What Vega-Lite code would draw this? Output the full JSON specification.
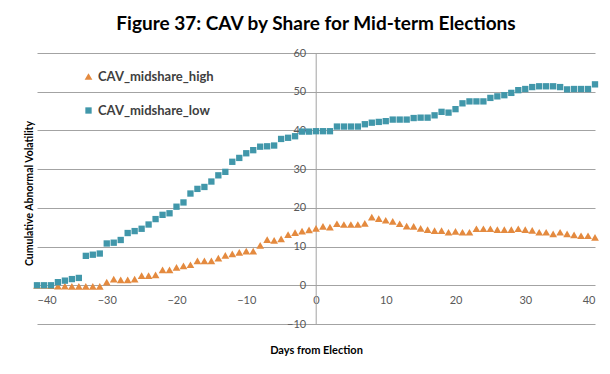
{
  "$schema": "https://vega.github.io/schema/vega-lite/v6.json",
  "width": 558,
  "height": 271,
  "autosize": "none",
  "padding": {"left": 37, "top": 53, "right": 15, "bottom": 50},
  "background": "white",
  "title": {
    "text": "Figure 37: CAV by Share for Mid-term Elections",
    "font": "Lato",
    "fontSize": 19,
    "fontWeight": "bold",
    "color": "#000000",
    "anchor": "middle",
    "offset": 13
  },
  "config": {
    "view": {"stroke": null},
    "font": "Lato"
  },
  "data": {
    "values": [
      {"day": -40, "series": "CAV_midshare_high", "value": 0},
      {"day": -39, "series": "CAV_midshare_high", "value": 0},
      {"day": -38, "series": "CAV_midshare_high", "value": -0.1},
      {"day": -37, "series": "CAV_midshare_high", "value": -0.2},
      {"day": -36, "series": "CAV_midshare_high", "value": -0.2},
      {"day": -35, "series": "CAV_midshare_high", "value": -0.3},
      {"day": -34, "series": "CAV_midshare_high", "value": -0.3},
      {"day": -33, "series": "CAV_midshare_high", "value": -0.3},
      {"day": -32, "series": "CAV_midshare_high", "value": -0.3},
      {"day": -31, "series": "CAV_midshare_high", "value": -0.3},
      {"day": -30, "series": "CAV_midshare_high", "value": 0.8},
      {"day": -29, "series": "CAV_midshare_high", "value": 1.6},
      {"day": -28, "series": "CAV_midshare_high", "value": 1.4},
      {"day": -27, "series": "CAV_midshare_high", "value": 1.4},
      {"day": -26, "series": "CAV_midshare_high", "value": 1.6},
      {"day": -25, "series": "CAV_midshare_high", "value": 2.5},
      {"day": -24, "series": "CAV_midshare_high", "value": 2.5},
      {"day": -23, "series": "CAV_midshare_high", "value": 2.7},
      {"day": -22, "series": "CAV_midshare_high", "value": 4.0},
      {"day": -21, "series": "CAV_midshare_high", "value": 4.0},
      {"day": -20, "series": "CAV_midshare_high", "value": 4.6},
      {"day": -19, "series": "CAV_midshare_high", "value": 5.0},
      {"day": -18, "series": "CAV_midshare_high", "value": 5.3},
      {"day": -17, "series": "CAV_midshare_high", "value": 6.3},
      {"day": -16, "series": "CAV_midshare_high", "value": 6.3},
      {"day": -15, "series": "CAV_midshare_high", "value": 6.3},
      {"day": -14, "series": "CAV_midshare_high", "value": 7.0},
      {"day": -13, "series": "CAV_midshare_high", "value": 7.7},
      {"day": -12, "series": "CAV_midshare_high", "value": 8.1},
      {"day": -11, "series": "CAV_midshare_high", "value": 8.5},
      {"day": -10, "series": "CAV_midshare_high", "value": 8.8},
      {"day": -9, "series": "CAV_midshare_high", "value": 8.8},
      {"day": -8, "series": "CAV_midshare_high", "value": 10.3},
      {"day": -7, "series": "CAV_midshare_high", "value": 11.8},
      {"day": -6, "series": "CAV_midshare_high", "value": 11.6},
      {"day": -5, "series": "CAV_midshare_high", "value": 12.0},
      {"day": -4, "series": "CAV_midshare_high", "value": 13.1},
      {"day": -3, "series": "CAV_midshare_high", "value": 13.6},
      {"day": -2, "series": "CAV_midshare_high", "value": 14.0},
      {"day": -1, "series": "CAV_midshare_high", "value": 14.3},
      {"day": 0, "series": "CAV_midshare_high", "value": 14.7},
      {"day": 1, "series": "CAV_midshare_high", "value": 15.2},
      {"day": 2, "series": "CAV_midshare_high", "value": 15.0},
      {"day": 3, "series": "CAV_midshare_high", "value": 15.9},
      {"day": 4, "series": "CAV_midshare_high", "value": 15.7},
      {"day": 5, "series": "CAV_midshare_high", "value": 15.7},
      {"day": 6, "series": "CAV_midshare_high", "value": 15.7},
      {"day": 7, "series": "CAV_midshare_high", "value": 16.0},
      {"day": 8, "series": "CAV_midshare_high", "value": 17.6},
      {"day": 9, "series": "CAV_midshare_high", "value": 17.2},
      {"day": 10, "series": "CAV_midshare_high", "value": 16.8},
      {"day": 11, "series": "CAV_midshare_high", "value": 16.5},
      {"day": 12, "series": "CAV_midshare_high", "value": 15.9},
      {"day": 13, "series": "CAV_midshare_high", "value": 15.3},
      {"day": 14, "series": "CAV_midshare_high", "value": 15.2},
      {"day": 15, "series": "CAV_midshare_high", "value": 14.7},
      {"day": 16, "series": "CAV_midshare_high", "value": 14.4},
      {"day": 17, "series": "CAV_midshare_high", "value": 14.1},
      {"day": 18, "series": "CAV_midshare_high", "value": 14.1},
      {"day": 19, "series": "CAV_midshare_high", "value": 13.7},
      {"day": 20, "series": "CAV_midshare_high", "value": 13.9},
      {"day": 21, "series": "CAV_midshare_high", "value": 13.7},
      {"day": 22, "series": "CAV_midshare_high", "value": 13.7},
      {"day": 23, "series": "CAV_midshare_high", "value": 14.6},
      {"day": 24, "series": "CAV_midshare_high", "value": 14.6},
      {"day": 25, "series": "CAV_midshare_high", "value": 14.6},
      {"day": 26, "series": "CAV_midshare_high", "value": 14.4},
      {"day": 27, "series": "CAV_midshare_high", "value": 14.4},
      {"day": 28, "series": "CAV_midshare_high", "value": 14.4},
      {"day": 29, "series": "CAV_midshare_high", "value": 14.6},
      {"day": 30, "series": "CAV_midshare_high", "value": 14.4},
      {"day": 31, "series": "CAV_midshare_high", "value": 14.2},
      {"day": 32, "series": "CAV_midshare_high", "value": 13.7},
      {"day": 33, "series": "CAV_midshare_high", "value": 13.7},
      {"day": 34, "series": "CAV_midshare_high", "value": 13.3},
      {"day": 35, "series": "CAV_midshare_high", "value": 13.7},
      {"day": 36, "series": "CAV_midshare_high", "value": 13.3},
      {"day": 37, "series": "CAV_midshare_high", "value": 13.0},
      {"day": 38, "series": "CAV_midshare_high", "value": 12.8},
      {"day": 39, "series": "CAV_midshare_high", "value": 12.8},
      {"day": 40, "series": "CAV_midshare_high", "value": 12.4},
      {"day": -40, "series": "CAV_midshare_low", "value": 0},
      {"day": -39, "series": "CAV_midshare_low", "value": 0},
      {"day": -38, "series": "CAV_midshare_low", "value": 0},
      {"day": -37, "series": "CAV_midshare_low", "value": 0.8},
      {"day": -36, "series": "CAV_midshare_low", "value": 1.2},
      {"day": -35, "series": "CAV_midshare_low", "value": 1.6},
      {"day": -34, "series": "CAV_midshare_low", "value": 1.9},
      {"day": -33, "series": "CAV_midshare_low", "value": 7.6},
      {"day": -32, "series": "CAV_midshare_low", "value": 7.9},
      {"day": -31, "series": "CAV_midshare_low", "value": 8.2},
      {"day": -30, "series": "CAV_midshare_low", "value": 10.8},
      {"day": -29, "series": "CAV_midshare_low", "value": 11.0},
      {"day": -28, "series": "CAV_midshare_low", "value": 11.7},
      {"day": -27, "series": "CAV_midshare_low", "value": 13.5},
      {"day": -26, "series": "CAV_midshare_low", "value": 14.0},
      {"day": -25, "series": "CAV_midshare_low", "value": 14.6},
      {"day": -24, "series": "CAV_midshare_low", "value": 15.7},
      {"day": -23, "series": "CAV_midshare_low", "value": 17.1},
      {"day": -22, "series": "CAV_midshare_low", "value": 18.2},
      {"day": -21, "series": "CAV_midshare_low", "value": 18.6},
      {"day": -20, "series": "CAV_midshare_low", "value": 20.3},
      {"day": -19, "series": "CAV_midshare_low", "value": 21.4},
      {"day": -18, "series": "CAV_midshare_low", "value": 23.7},
      {"day": -17, "series": "CAV_midshare_low", "value": 24.9},
      {"day": -16, "series": "CAV_midshare_low", "value": 25.4},
      {"day": -15, "series": "CAV_midshare_low", "value": 26.8},
      {"day": -14, "series": "CAV_midshare_low", "value": 28.4},
      {"day": -13, "series": "CAV_midshare_low", "value": 29.3},
      {"day": -12, "series": "CAV_midshare_low", "value": 31.9},
      {"day": -11, "series": "CAV_midshare_low", "value": 32.9},
      {"day": -10, "series": "CAV_midshare_low", "value": 34.1},
      {"day": -9, "series": "CAV_midshare_low", "value": 34.9},
      {"day": -8, "series": "CAV_midshare_low", "value": 35.8},
      {"day": -7, "series": "CAV_midshare_low", "value": 35.9},
      {"day": -6, "series": "CAV_midshare_low", "value": 36.1},
      {"day": -5, "series": "CAV_midshare_low", "value": 37.8},
      {"day": -4, "series": "CAV_midshare_low", "value": 38.1},
      {"day": -3, "series": "CAV_midshare_low", "value": 38.5},
      {"day": -2, "series": "CAV_midshare_low", "value": 39.7},
      {"day": -1, "series": "CAV_midshare_low", "value": 39.7},
      {"day": 0, "series": "CAV_midshare_low", "value": 39.8},
      {"day": 1, "series": "CAV_midshare_low", "value": 39.8},
      {"day": 2, "series": "CAV_midshare_low", "value": 39.8},
      {"day": 3, "series": "CAV_midshare_low", "value": 41.0},
      {"day": 4, "series": "CAV_midshare_low", "value": 41.0},
      {"day": 5, "series": "CAV_midshare_low", "value": 41.0},
      {"day": 6, "series": "CAV_midshare_low", "value": 41.0},
      {"day": 7, "series": "CAV_midshare_low", "value": 41.6},
      {"day": 8, "series": "CAV_midshare_low", "value": 42.0},
      {"day": 9, "series": "CAV_midshare_low", "value": 42.2},
      {"day": 10, "series": "CAV_midshare_low", "value": 42.4},
      {"day": 11, "series": "CAV_midshare_low", "value": 42.8},
      {"day": 12, "series": "CAV_midshare_low", "value": 42.8},
      {"day": 13, "series": "CAV_midshare_low", "value": 42.8},
      {"day": 14, "series": "CAV_midshare_low", "value": 43.2},
      {"day": 15, "series": "CAV_midshare_low", "value": 43.3},
      {"day": 16, "series": "CAV_midshare_low", "value": 43.3},
      {"day": 17, "series": "CAV_midshare_low", "value": 43.9},
      {"day": 18, "series": "CAV_midshare_low", "value": 44.8},
      {"day": 19, "series": "CAV_midshare_low", "value": 44.6},
      {"day": 20, "series": "CAV_midshare_low", "value": 45.5},
      {"day": 21, "series": "CAV_midshare_low", "value": 47.0},
      {"day": 22, "series": "CAV_midshare_low", "value": 47.5},
      {"day": 23, "series": "CAV_midshare_low", "value": 47.5},
      {"day": 24, "series": "CAV_midshare_low", "value": 47.5},
      {"day": 25, "series": "CAV_midshare_low", "value": 48.4},
      {"day": 26, "series": "CAV_midshare_low", "value": 48.8},
      {"day": 27, "series": "CAV_midshare_low", "value": 49.1},
      {"day": 28, "series": "CAV_midshare_low", "value": 49.7},
      {"day": 29, "series": "CAV_midshare_low", "value": 50.4},
      {"day": 30, "series": "CAV_midshare_low", "value": 50.7},
      {"day": 31, "series": "CAV_midshare_low", "value": 51.2},
      {"day": 32, "series": "CAV_midshare_low", "value": 51.4},
      {"day": 33, "series": "CAV_midshare_low", "value": 51.4},
      {"day": 34, "series": "CAV_midshare_low", "value": 51.4},
      {"day": 35, "series": "CAV_midshare_low", "value": 51.2},
      {"day": 36, "series": "CAV_midshare_low", "value": 50.6},
      {"day": 37, "series": "CAV_midshare_low", "value": 50.7},
      {"day": 38, "series": "CAV_midshare_low", "value": 50.7},
      {"day": 39, "series": "CAV_midshare_low", "value": 50.7},
      {"day": 40, "series": "CAV_midshare_low", "value": 51.9}
    ]
  },
  "mark": {"type": "point", "filled": true, "opacity": 1},
  "encoding": {
    "x": {
      "field": "day",
      "type": "quantitative",
      "scale": {"domain": [-40, 40], "nice": false},
      "axis": {
        "values": [-40, -30, -20, -10, 0, 10, 20, 30, 40],
        "offset": -38.7,
        "grid": false,
        "domain": false,
        "ticks": false,
        "labelPadding": 9,
        "labelFont": "Lato",
        "labelFontSize": 11,
        "labelColor": "#595959",
        "title": "Days from Election",
        "titleFont": "Lato",
        "titleFontSize": 11,
        "titleFontWeight": "bold",
        "titleColor": "#000000",
        "titlePadding": 39
      }
    },
    "y": {
      "field": "value",
      "type": "quantitative",
      "scale": {"domain": [-10, 60], "nice": false},
      "axis": {
        "values": [-10, 0, 10, 20, 30, 40, 50, 60],
        "offset": -278.7,
        "grid": true,
        "gridColor": "#a3a3a3",
        "gridWidth": 1,
        "domain": true,
        "domainColor": "#a3a3a3",
        "ticks": false,
        "labelPadding": 10,
        "labelFont": "Lato",
        "labelFontSize": 11,
        "labelColor": "#595959",
        "title": "Cumulative Abnormal Volatility",
        "titleFont": "Lato",
        "titleFontSize": 10.5,
        "titleFontWeight": "bold",
        "titleColor": "#000000",
        "titleX": -286,
        "titleY": 140,
        "titleAngle": -90,
        "titleAlign": "center",
        "titleBaseline": "middle"
      }
    },
    "color": {
      "field": "series",
      "type": "nominal",
      "scale": {"domain": ["CAV_midshare_high", "CAV_midshare_low"], "range": ["#E48A3F", "#4197AA"]},
      "legend": {
        "orient": "none",
        "legendX": 45,
        "legendY": 17,
        "title": null,
        "padding": 0,
        "labelFont": "Lato",
        "labelFontSize": 13,
        "labelFontWeight": "bold",
        "labelColor": "#404040",
        "labelOffset": 3,
        "rowPadding": 20
      }
    },
    "shape": {
      "field": "series",
      "type": "nominal",
      "scale": {"domain": ["CAV_midshare_high", "CAV_midshare_low"], "range": ["triangle-up", "square"]}
    },
    "size": {
      "field": "series",
      "type": "nominal",
      "scale": {"domain": ["CAV_midshare_high", "CAV_midshare_low"], "range": [60, 40]}
    }
  }
}
